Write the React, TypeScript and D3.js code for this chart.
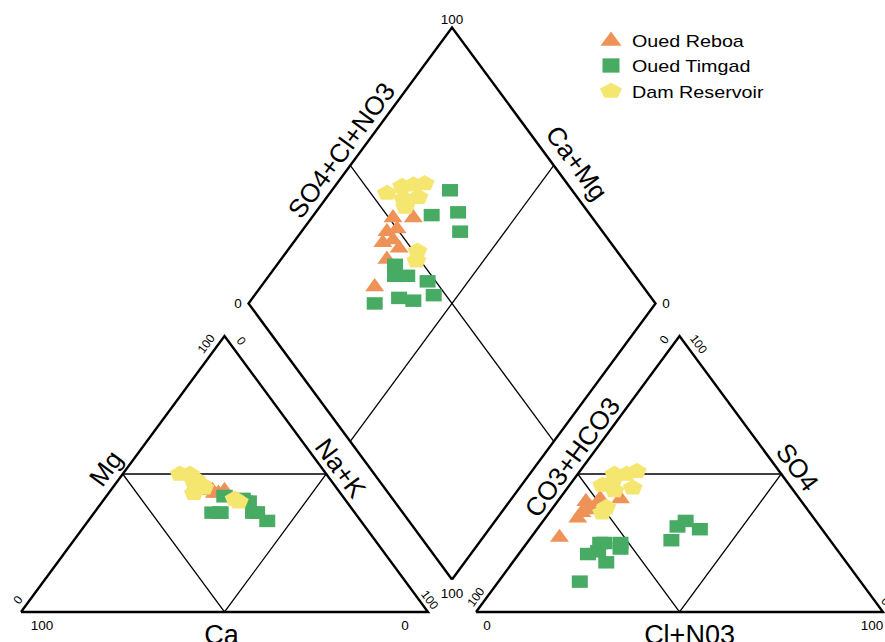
import React from "react";
import * as d3 from "d3";

const width = 885;
const height = 642;

const groups = ["Oued Reboa", "Oued Timgad", "Dam Reservoir"];
const colors = ["#ee9258", "#48ab63", "#f5e66f"];

// cations in % meq/l (Ca is the remainder)
const reboaMg = [45, 44, 45, 46, 45, 44, 43, 43, 44];
const reboaNaK = [20, 25, 23, 21, 22, 24, 26, 27, 28];
// anions in % meq/l (CO3+HCO3 is the remainder)
const reboaSO4 = [41, 41, 40, 40, 36, 38, 34, 37, 27];
const reboaCl = [10, 15, 10, 7, 8, 9, 8, 10, 7];

const timgadMg = [42, 36, 40, 36, 42, 36, 41, 36, 33, 36, 40, 36];
const timgadNaK = [29, 29, 35, 39, 29, 31, 34, 40, 44, 31, 36, 40];
const timgadSO4 = [30, 26, 33, 31, 25, 22, 25, 25, 23, 11, 21, 18];
const timgadCl = [40, 35, 35, 34, 18, 19, 19, 23, 24, 20, 17, 23];

const damMg = [50, 50, 47, 46, 48, 45, 43, 41, 40];
const damNaK = [14, 16.5, 19, 21.5, 19, 22.5, 21, 32, 33.5];
const damSO4 = [46, 50, 50, 51, 47, 45, 44, 38, 36];
const damCl = [8, 9, 12, 14, 10, 16, 12, 13, 13];

interface Sample {
  mg: number;
  nak: number;
  so4: number;
  cl: number;
}

const zip = (mg: number[], nak: number[], so4: number[], cl: number[]): Sample[] =>
  mg.map((d, i) => ({ mg: d, nak: nak[i], so4: so4[i], cl: cl[i] }));

const samples = [
  zip(reboaMg, reboaNaK, reboaSO4, reboaCl),
  zip(timgadMg, timgadNaK, timgadSO4, timgadCl),
  zip(damMg, damNaK, damSO4, damCl),
];

// gap between the two triangles, in triangle-width units
const gap = 11.8;

const x = d3.scaleLinear().domain([0, 100]).range([21, 428]);
const y = d3.scaleLinear().domain([0, 100]).range([612, 336]);

type Pt = [number, number];
const px = (p: Pt): Pt => [x(p[0]), y(p[1])];

// triangle and diamond corners (abstract units)
const catBL: Pt = [0, 0];
const catBR: Pt = [100, 0];
const catTop: Pt = [50, 100];
const anBL: Pt = [100 + gap, 0];
const anBR: Pt = [200 + gap, 0];
const anTop: Pt = [150 + gap, 100];
const dB: Pt = [100 + gap / 2, gap];
const dL: Pt = [50 + gap / 2, 100 + gap];
const dR: Pt = [150 + gap / 2, 100 + gap];
const dT: Pt = [100 + gap / 2, 200 + gap];

const mid = (a: Pt, b: Pt): Pt => [(a[0] + b[0]) / 2, (a[1] + b[1]) / 2];

const cationXY = (s: Sample): Pt => px([s.nak + s.mg / 2, s.mg]);
const anionXY = (s: Sample): Pt => px([100 + gap + s.cl + s.so4 / 2, s.so4]);
const diamondXY = (s: Sample): Pt => {
  const a = s.so4 + s.cl;
  return px([dL[0] + 0.5 * a + 0.5 * s.nak, dL[1] + a - s.nak]);
};

const symbolPentagon: d3.SymbolType = {
  draw(context, size) {
    const r = Math.sqrt(size / 2.378);
    for (let i = 0; i < 5; i++) {
      const a = -Math.PI / 2 + (i * 2 * Math.PI) / 5;
      if (i === 0) context.moveTo(r * Math.cos(a), r * Math.sin(a));
      else context.lineTo(r * Math.cos(a), r * Math.sin(a));
    }
    context.closePath();
  },
};

const markers = [
  { path: d3.symbol().type(d3.symbolTriangle).size(156)()!, sy: 0.8 },
  { path: d3.symbol().type(d3.symbolSquare).size(256)()!, sy: 0.78 },
  { path: d3.symbol().type(symbolPentagon).size(262)()!, sy: 0.8 },
];
const legendMarkers = [
  { path: d3.symbol().type(d3.symbolTriangle).size(191)()!, sy: 0.78 },
  { path: d3.symbol().type(d3.symbolSquare).size(289)()!, sy: 0.84 },
  { path: d3.symbol().type(symbolPentagon).size(315)()!, sy: 0.72 },
];

const font = "Arial, 'Liberation Sans', sans-serif";

const poly = (pts: Pt[]) => d3.line()(pts.map(px).concat([px(pts[0])]))!;
const seg = (a: Pt, b: Pt) => d3.line()([px(a), px(b)])!;

const EdgeLabel = ({
  from,
  to,
  t,
  off,
  size,
  text,
}: {
  from: Pt;
  to: Pt;
  t: number;
  off: number;
  size: number;
  text: string;
}) => {
  const [x0, y0] = px(from);
  const [x1, y1] = px(to);
  const lx = x0 + t * (x1 - x0);
  const ly = y0 + t * (y1 - y0);
  const ang = (Math.atan2(y1 - y0, x1 - x0) * 180) / Math.PI;
  return (
    <text
      transform={`translate(${lx},${ly}) rotate(${ang})`}
      y={-off}
      textAnchor="middle"
      dominantBaseline="central"
      fontSize={size}
    >
      {text}
    </text>
  );
};

export default function App() {
  const outer = { fill: "none", stroke: "#000", strokeWidth: 2.4, strokeLinejoin: "miter" as const };
  const inner = { fill: "none", stroke: "#000", strokeWidth: 1.3 };
  const positions = [cationXY, anionXY, diamondXY];

  return (
    <svg
      width={width}
      height={height}
      style={{ position: "absolute", left: 0, top: 0, background: "#fff" }}
      fontFamily={font}
    >
      {/* frames */}
      <path d={poly([catBL, catBR, catTop])} {...outer} />
      <path d={poly([anBL, anBR, anTop])} {...outer} />
      <path d={poly([dB, dR, dT, dL])} {...outer} />

      <path d={poly([mid(catBL, catTop), mid(catTop, catBR), mid(catBL, catBR)])} {...inner} />
      <path d={poly([mid(anBL, anTop), mid(anTop, anBR), mid(anBL, anBR)])} {...inner} />
      <path d={seg(mid(dL, dT), mid(dB, dR))} {...inner} />
      <path d={seg(mid(dT, dR), mid(dL, dB))} {...inner} />

      {/* samples */}
      {samples.map((grp, gi) => (
        <g key={groups[gi]} fill={colors[gi]}>
          {grp.flatMap((s, si) =>
            positions.map((f, pi) => {
              const [cx, cy] = f(s);
              return (
                <path
                  key={`${si}-${pi}`}
                  d={markers[gi].path}
                  transform={`translate(${cx},${cy}) scale(1,${markers[gi].sy})`}
                />
              );
            })
          )}
        </g>
      ))}

      {/* axis titles */}
      <EdgeLabel from={dL} to={dT} t={0.52} off={16} size={26} text="SO4+Cl+NO3" />
      <EdgeLabel from={dT} to={dR} t={0.534} off={20} size={26} text="Ca+Mg" />
      <EdgeLabel from={catBL} to={catTop} t={0.484} off={17} size={26} text="Mg" />
      <EdgeLabel from={catTop} to={catBR} t={0.511} off={15} size={26} text="Na+K" />
      <EdgeLabel from={anBL} to={anTop} t={0.53} off={14.5} size={26} text="CO3+HCO3" />
      <EdgeLabel from={anTop} to={anBR} t={0.512} off={17} size={26} text="SO4" />

      <text x={x(50) - 3} y={y(0) + 32} textAnchor="middle" fontSize={27}>
        Ca
      </text>
      <text x={x(150 + gap) + 10} y={y(0) + 32} textAnchor="middle" fontSize={27}>
        Cl+N03
      </text>

      {/* rotated end ticks */}
      <EdgeLabel from={catBL} to={catTop} t={0.95} off={10} size={12} text="100" />
      <EdgeLabel from={catTop} to={catBR} t={0.041} off={10.5} size={12} text="0" />
      <EdgeLabel from={catBL} to={catTop} t={0.023} off={9.5} size={12} text="0" />
      <EdgeLabel from={catTop} to={catBR} t={0.975} off={8.5} size={12} text="100" />
      <EdgeLabel from={anBL} to={anTop} t={0.965} off={10} size={12} text="0" />
      <EdgeLabel from={anTop} to={anBR} t={0.052} off={10.5} size={12} text="100" />
      <EdgeLabel from={anBL} to={anTop} t={0.035} off={9} size={12} text="100" />
      <EdgeLabel from={anTop} to={anBR} t={0.98} off={8.5} size={12} text="0" />

      {/* horizontal ticks */}
      <g fontSize={13.5} textAnchor="middle">
        <text x={px(dT)[0]} y={px(dT)[1] - 3}>100</text>
        <text x={px(dL)[0] - 10.5} y={px(dL)[1] + 4.5}>0</text>
        <text x={px(dR)[0] + 10.5} y={px(dR)[1] + 4.5}>0</text>
        <text x={px(dB)[0]} y={px(dB)[1] + 18.5}>100</text>
        <text x={x(0) + 21} y={y(0) + 18}>100</text>
        <text x={x(100) - 23} y={y(0) + 18}>0</text>
        <text x={px(anBL)[0] + 11} y={y(0) + 18}>0</text>
        <text x={px(anBR)[0] - 11} y={y(0) + 18}>100</text>
      </g>

      {/* legend */}
      <g transform="translate(611,40)">
        {groups.map((g, i) => (
          <g key={g} transform={`translate(0,${i * 25.5})`}>
            <path
              d={legendMarkers[i].path}
              fill={colors[i]}
              transform={`translate(0,${i === 0 ? 1 : 0}) scale(1,${legendMarkers[i].sy})`}
            />
            <text transform="translate(21,6.5) scale(1.16,1)" fontSize={17}>
              {g}
            </text>
          </g>
        ))}
      </g>
    </svg>
  );
}
